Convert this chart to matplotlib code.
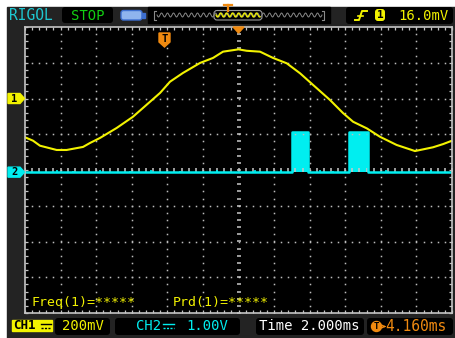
import numpy as np
import matplotlib.pyplot as plt
from matplotlib.patches import FancyBboxPatch, Polygon, Rectangle, Circle
from matplotlib.ticker import MultipleLocator

# CH1 trace: time (ms from screen centre) and voltage (mV)
ch1_t = [-12.0, -11.55, -11.16, -10.22, -9.66, -8.74, -8.35, -7.79, -6.85, -5.93,
         -4.97, -4.41, -3.85, -3.12, -2.16, -1.43, -0.87, 0.0, 0.46, 1.21,
         1.94, 2.71, 3.46, 4.19, 5.14, 5.87, 6.44, 7.21, 7.95, 8.89,
         9.92, 10.93, 11.5, 12.0]
ch1_mv = [-217, -236, -264, -288, -288, -271, -249, -221, -165, -102,
          -18, 31, 94, 143, 199, 227, 262, 275, 267, 262,
          227, 197, 141, 76, -8, -81, -130, -167, -214, -260,
          -294, -273, -255, -236]

# CH2 trace: two pulses (ms, V)
ch2_t = [-12.0, 2.99, 2.99, 3.91, 3.91, 6.21, 6.21, 7.28, 7.28, 12.0]
ch2_v = [0.0, 0.0, 1.12, 1.12, 0.0, 0.0, 1.12, 1.12, 0.0, 0.0]
ch2_spike_t = [-10.2, -9.3, -7.8, -6.1, -4.9, -3.3, -1.2, 0.9, 1.6, 2.4,
               4.6, 5.3, 8.3, 9.6, 10.8]
ch2_spike_v = [0.07, 0.04, 0.05, 0.04, 0.06, 0.04, 0.05, 0.06, 0.04, 0.05,
               0.05, 0.04, 0.05, 0.04, 0.05]

ch1_scale = 200.0   # mV/div
ch1_offset = 2.0    # div
ch2_scale = 1.0     # V/div
ch2_offset = -0.06  # div
time_scale = 2.0    # ms/div
trig_pos = 4.160    # ms

YEL = '#f2f200'
CYN = '#00eef0'
ORG = '#f08a10'
GRY = '#c4c4c4'
MONO = 'DejaVu Sans Mono'

fig = plt.figure(figsize=(4.55, 3.38), dpi=100, facecolor='white')

# frame / chrome in pixel coordinates
bg = fig.add_axes([0, 0, 1, 1], zorder=1)
bg.set_xlim(0, 455)
bg.set_ylim(338, 0)
bg.axis('off')
bg.add_patch(Rectangle((7, 7), 448, 331, color='#232323'))


def box(ax, x0, y0, x1, y1, fc='black', ec='none', r=3, lw=1):
    ax.add_patch(FancyBboxPatch((x0, y0), x1 - x0, y1 - y0,
                                boxstyle=f"round,pad=0,rounding_size={r}",
                                fc=fc, ec=ec, lw=lw))


# top bar
bg.text(9, 15.5, 'RIGOL', color='#1ec8d2', fontsize=10.5, family=MONO, va='center')
box(bg, 62, 7, 113, 23)
bg.text(87.5, 15.5, 'STOP', color='#12d012', fontsize=10, family=MONO, va='center', ha='center')
box(bg, 121, 10.5, 142, 20, fc='#8fb4ee', ec='#3d6fd0', r=2.5, lw=1)
bg.add_patch(Rectangle((142, 13), 3, 4.5, color='#3d6fd0'))
bg.add_patch(Rectangle((148, 7), 182, 16, color='black'))
wx = np.linspace(157, 322, 400)
bg.plot(wx, 15 + 2 * np.sin((wx - 157) / 6.0 * 2 * np.pi), color='#8a8a8a', lw=0.7)
bg.plot([156, 154, 154, 156], [11, 11, 20, 20], color='#8a8a8a', lw=0.8)
bg.plot([322, 324, 324, 322], [11, 11, 20, 20], color='#8a8a8a', lw=0.8)
box(bg, 214, 10.5, 262, 20, fc='black', ec='#9a9a9a', r=3, lw=0.8)
wx2 = np.linspace(216, 260, 150)
bg.plot(wx2, 15 + 2 * np.sin((wx2 - 216) / 6.0 * 2 * np.pi), color=YEL, lw=0.9)
bg.plot([224, 232], [5, 5], color=ORG, lw=1.6)
bg.plot([228, 228], [5, 11], color=ORG, lw=1.6)
box(bg, 346, 7, 453, 24)
bg.plot([355, 359, 362, 367], [20, 20, 11, 11], color=YEL, lw=1.4)
bg.plot([358, 363], [15.5, 15.5], color=YEL, lw=1.2)
box(bg, 375, 9, 385, 21, fc=YEL, r=3)
bg.text(380, 15.5, '1', color='black', fontsize=8, family=MONO, weight='bold',
        va='center', ha='center')
bg.text(398, 15.5, '16.0mV', color=YEL, fontsize=10, family=MONO, va='center')

# bottom bar
bg.add_patch(Rectangle((12, 320), 40, 11, color=YEL))
bg.text(13, 325.8, 'CH1', color='black', fontsize=9, family=MONO, weight='bold', va='center')
bg.plot([41, 51], [323.5, 323.5], color='black', lw=1)
bg.plot([41, 51], [327.5, 327.5], color='black', lw=1, ls=(0, (1.5, 1)))
box(bg, 55, 318, 110, 335)
bg.text(62, 326.5, '200mV', color=YEL, fontsize=10, family=MONO, va='center')
box(bg, 115, 318, 240, 335)
bg.text(136, 326.5, 'CH2', color=CYN, fontsize=10, family=MONO, va='center')
bg.plot([163, 174], [323.5, 323.5], color=CYN, lw=1)
bg.plot([163, 174], [327.5, 327.5], color=CYN, lw=1, ls=(0, (1.5, 1)))
bg.text(186, 326.5, '1.00V', color=CYN, fontsize=10, family=MONO, va='center')
box(bg, 256, 318, 364, 335)
bg.text(259, 326.5, 'Time 2.000ms', color='white', fontsize=10, family=MONO, va='center')
box(bg, 367, 318, 453, 335)
bg.add_patch(Circle((376.5, 326.5), 5, color=ORG))
bg.text(376.5, 326.8, 'T', color='black', fontsize=6.5, family=MONO, weight='bold',
        va='center', ha='center')
bg.annotate('', xy=(386, 326.5), xytext=(381, 326.5),
            arrowprops=dict(arrowstyle='->', color=ORG, lw=1, mutation_scale=5))
bg.text(385, 326.5, '4.160ms', color=ORG, fontsize=10.5, family=MONO, va='center')

# scope screen in divisions
ax = fig.add_axes([25 / 455, 1 - 313 / 338, 427 / 455, 286 / 338], zorder=2)
ax.set_facecolor('black')
ax.set_xlim(-6, 6)
ax.set_ylim(-4, 4)
for s in ax.spines.values():
    s.set_color(GRY)
    s.set_linewidth(1.2)
ax.xaxis.set_major_locator(MultipleLocator(1))
ax.xaxis.set_minor_locator(MultipleLocator(0.2))
ax.yaxis.set_major_locator(MultipleLocator(1))
ax.yaxis.set_minor_locator(MultipleLocator(0.2))
ax.tick_params(which='both', direction='in', length=2.2, width=0.9, color=GRY,
               top=True, right=True, labelleft=False, labelbottom=False)

dots = np.arange(-6, 6.01, 0.2)
for gy in [-3, -2, -1, 1, 2, 3]:
    ax.plot(dots, np.full_like(dots, gy), ls='none', marker='s', ms=1.1, mew=0, color='#bcbcbc')
dots_v = np.arange(-4, 4.01, 0.2)
for gx in [-5, -4, -3, -2, -1, 1, 2, 3, 4, 5]:
    ax.plot(np.full_like(dots_v, gx), dots_v, ls='none', marker='s', ms=1.1, mew=0, color='#bcbcbc')
ax.plot(np.zeros_like(dots_v), dots_v, ls='none', marker='_', ms=3.2, mew=1.1, color='#c8c8c8')
ax.plot(dots, np.zeros_like(dots), ls='none', marker='|', ms=3.2, mew=1.1, color='#c8c8c8')

x1 = np.array(ch1_t) / time_scale
y1 = np.array(ch1_mv) / ch1_scale + ch1_offset
ax.plot(x1, y1, color=YEL, lw=1.5, solid_joinstyle='round')

x2 = np.array(ch2_t) / time_scale
y2 = np.array(ch2_v) / ch2_scale + ch2_offset
ax.fill_between(x2, ch2_offset, y2, color=CYN, lw=0)
ax.plot(x2, y2, color=CYN, lw=1.8)
sx = np.array(ch2_spike_t) / time_scale
ax.vlines(sx, ch2_offset, ch2_offset + np.array(ch2_spike_v) / ch2_scale, color=CYN, lw=1.2)

ax.text(0.015, 0.035, 'Freq(1)=*****', transform=ax.transAxes, color=YEL,
        fontsize=9.5, family=MONO, va='center')
ax.text(0.345, 0.035, 'Prd(1)=*****', transform=ax.transAxes, color=YEL,
        fontsize=9.5, family=MONO, va='center')

# markers drawn above the screen frame
ov = fig.add_axes([0, 0, 1, 1], zorder=3)
ov.set_xlim(0, 455)
ov.set_ylim(338, 0)
ov.axis('off')


def px_x(xd):
    return 238.5 + xd * 35.58


def px_y(yd):
    return 170 - yd * 35.75


def tag(y, color, label):
    ov.add_patch(Polygon([(8, y - 5), (20, y - 5), (24.5, y), (20, y + 5), (8, y + 5)],
                         closed=True, color=color))
    ov.text(14, y + 0.3, label, color='black', fontsize=7.5, family=MONO,
            weight='bold', ha='center', va='center')


tag(px_y(ch1_offset), YEL, '1')
tag(px_y(ch2_offset), CYN, '2')

cx = px_x(0)
ov.add_patch(Polygon([(cx - 5.5, 27), (cx + 5.5, 27), (cx, 33)], closed=True, color=ORG))
tx = px_x(-trig_pos / time_scale)
ov.add_patch(Polygon([(tx - 5.5, 33), (tx + 5.5, 33), (tx + 5.5, 42), (tx, 47), (tx - 5.5, 42)],
                     closed=True, color=ORG))
ov.text(tx, 38.5, 'T', color='black', fontsize=7.5, family=MONO, weight='bold',
        ha='center', va='center')

fig.savefig('out.png', dpi=100, facecolor='white')
